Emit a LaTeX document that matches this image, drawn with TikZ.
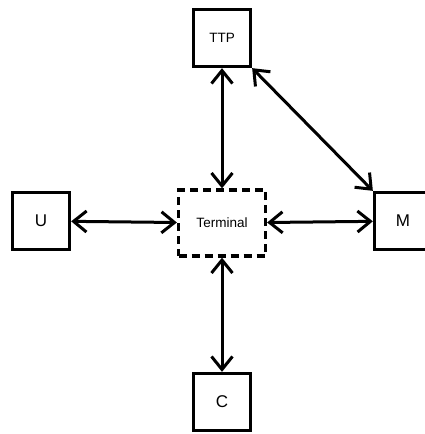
\documentclass[tikz,border=0pt]{standalone}
\usepackage{fontspec}
\setmainfont{Liberation Sans}
\usetikzlibrary{arrows.meta,positioning}

\begin{document}
\begin{tikzpicture}[x=1pt, y=-1pt,
    party/.style={rectangle, draw, line width=3.3pt, minimum size=57pt, inner sep=0pt, font=\fontsize{17}{20}\selectfont},
    trusted/.style={party, font=\fontsize{13.5}{16}\selectfont},
    device/.style={rectangle, draw, line width=3.3pt, dash pattern=on 8pt off 5pt, minimum width=87pt, minimum height=66pt, inner sep=0pt, font=\fontsize{13.5}{16}\selectfont},
    arrow/.style={line width=3pt, {Straight Barb[length=13pt,width=21pt]}-{Straight Barb[length=13pt,width=21pt]}}
]
\clip (0,0) rectangle (425,434);
\useasboundingbox (0,0) rectangle (425,434);

\node[trusted] (ttp) at (222,38) {TTP};
\node[device] (terminal) at (222,223) {Terminal};
\node[party] (user) at (41,221) {U};
\node[party] (merchant) at (403,221) {M};
\node[party] (card) at (222,402) {C};

\draw[arrow] (ttp) -- (terminal);
\draw[arrow] (user) -- (terminal);
\draw[arrow] (terminal) -- (merchant);
\draw[arrow] (terminal) -- (card);
\draw[arrow] (ttp.south east) -- (merchant.north west);

\end{tikzpicture}
\end{document}
